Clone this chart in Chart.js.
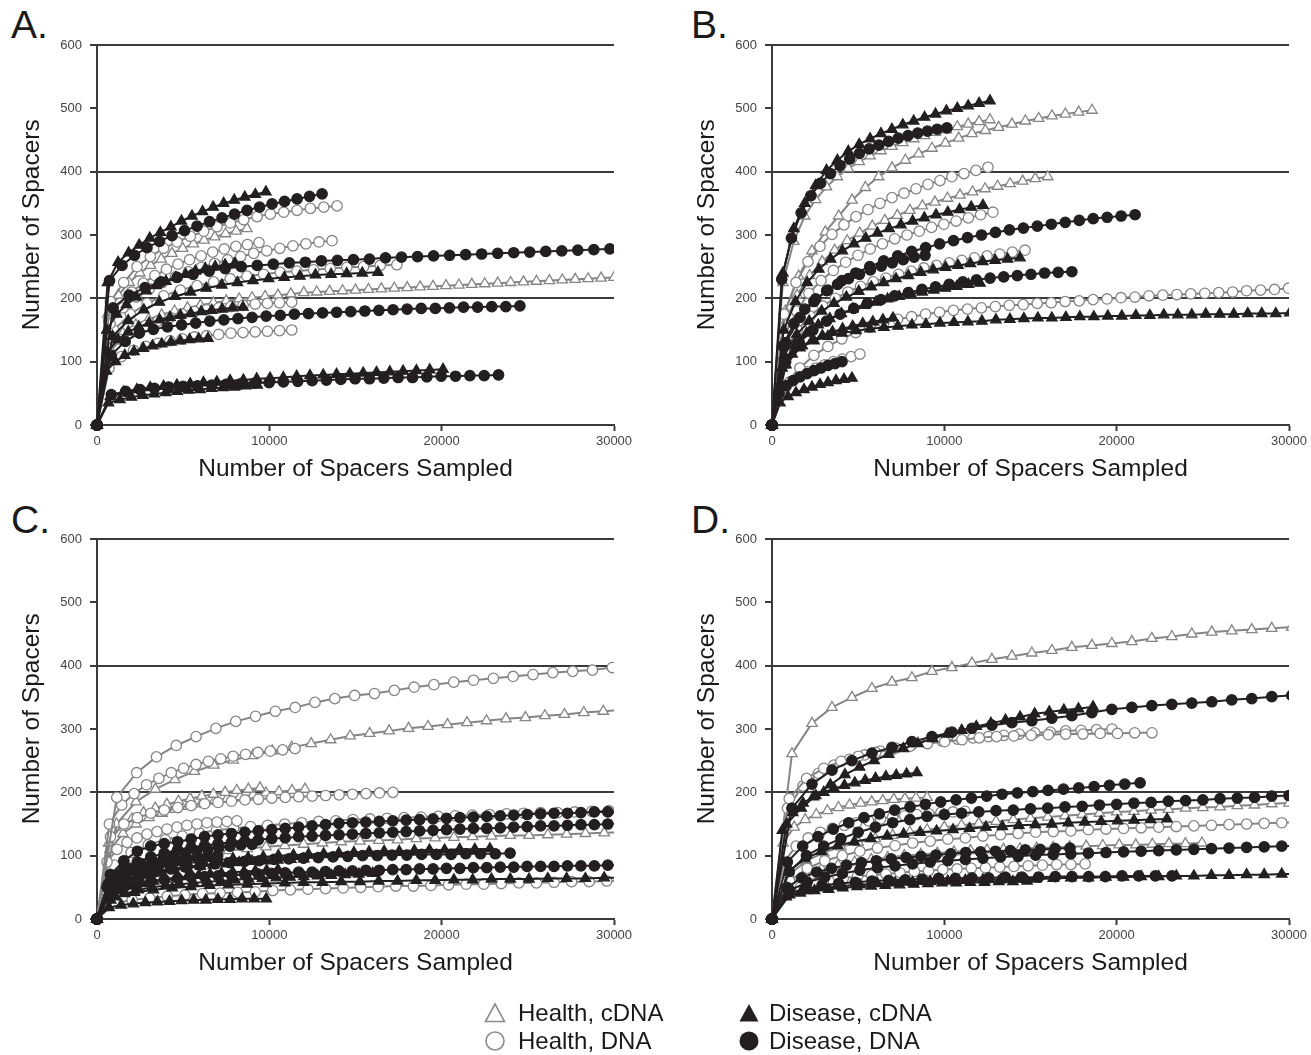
<!DOCTYPE html>
<html>
<head>
<meta charset="utf-8">
<script src="https://cdn.jsdelivr.net/npm/chart.js@4.4.1/dist/chart.umd.min.js"></script>
<style>
    body { margin: 0; background: #fff; width: 1311px; height: 1055px; overflow: hidden; position: relative;
           font-family: "Liberation Sans", Arial, sans-serif; color: #1a1a1a; }
    canvas { position: absolute; }
    .tag { position: absolute; font-size: 39px; line-height: 1; }
    .key { position: absolute; font-size: 24px; line-height: 1; white-space: nowrap; }
    svg { position: absolute; left: 0; top: 0; }
</style>
</head>
<body>
<div class="tag" style="left:11px;top:5px">A.</div>
<div class="tag" style="left:691px;top:5px">B.</div>
<div class="tag" style="left:11px;top:500px">C.</div>
<div class="tag" style="left:691px;top:500px">D.</div>

<canvas id="chart-a" width="636" height="494" style="left:0;top:0"></canvas>
<canvas id="chart-b" width="636" height="494" style="left:675px;top:0"></canvas>
<canvas id="chart-c" width="636" height="494" style="left:0;top:494px"></canvas>
<canvas id="chart-d" width="636" height="494" style="left:675px;top:494px"></canvas>

<svg width="1311" height="1055">
    <polygon points="495,1004 504.5,1021.5 485.5,1021.5" fill="#fff" stroke="#8c8c8c" stroke-width="1.6"/>
    <circle cx="495" cy="1041" r="9" fill="#fff" stroke="#8c8c8c" stroke-width="1.6"/>
    <polygon points="749,1004 758.5,1021.5 739.5,1021.5" fill="#231f20"/>
    <circle cx="749" cy="1041" r="9.5" fill="#231f20"/>
</svg>
<div class="key" style="left:518px;top:1001px">Health, cDNA</div>
<div class="key" style="left:518px;top:1029px">Health, DNA</div>
<div class="key" style="left:769px;top:1001px">Disease, cDNA</div>
<div class="key" style="left:769px;top:1029px">Disease, DNA</div>

<script>
// each curve: [last spacers sampled, number of spacers at evenly spaced sample sizes]
const aHealthCdna = [
    [8700, [175, 205, 225, 240, 252, 262, 271, 279, 286, 292, 297, 302, 306, 310]],
    [30750, [120, 145, 158, 167, 174, 180, 185, 189, 193, 196, 199, 201, 203, 205, 207, 209, 210, 211, 212, 213,
             214, 215, 216, 217, 218, 219, 220, 221, 222, 223, 224, 225, 226, 227, 228, 229, 230, 231, 232, 233, 234]],
];
const aHealthDna = [
    [13930, [195, 225, 250, 266, 279, 289, 298, 306, 313, 319, 324, 329, 333, 336, 339, 342, 344, 346]],
    [13640, [160, 185, 202, 215, 225, 234, 242, 249, 255, 261, 266, 271, 275, 279, 283, 286, 289, 291]],
    [9400, [165, 192, 210, 224, 236, 246, 254, 261, 267, 273, 278, 282, 285, 288]],
    [17400, [150, 175, 192, 204, 213, 220, 226, 231, 235, 238, 241, 243, 245, 247, 249, 250, 252, 253]],
    [11300, [115, 135, 148, 157, 164, 170, 175, 179, 182, 185, 187, 189, 191, 192, 193, 194]],
    [11300, [90, 108, 118, 124, 129, 133, 136, 139, 141, 143, 145, 146, 147, 148, 149, 150]],
];
const aDiseaseCdna = [
    [9800, [225, 257, 272, 284, 295, 304, 313, 322, 330, 337, 344, 350, 355, 360, 364, 368]],
    [16300, [140, 165, 182, 194, 203, 210, 216, 221, 225, 228, 231, 233, 235, 237, 238, 239, 240, 241]],
    [8000, [150, 175, 190, 202, 212, 220, 227, 233, 238, 243, 247, 250, 253, 255]],
    [8470, [115, 135, 147, 155, 161, 166, 170, 173, 176, 179, 181, 183, 185, 186]],
    [6440, [85, 100, 110, 116, 121, 125, 128, 131, 133, 135, 136, 137]],
    [20080, [45, 52, 56, 59, 61, 63, 65, 67, 68, 70, 71, 73, 74, 75, 77, 78, 79, 80, 81, 82, 83, 84, 85, 86, 87, 88]],
    [9300, [35, 40, 44, 47, 49, 51, 53, 55, 56, 58, 59, 60, 62, 63]],
];
const aDiseaseDna = [
    [13060, [228, 252, 268, 280, 290, 299, 307, 314, 321, 327, 333, 339, 344, 349, 353, 357, 361, 365]],
    [30690, [185, 205, 217, 226, 233, 238, 243, 247, 250, 252, 254, 256, 257, 259, 260, 261, 262, 264, 265, 266,
             267, 268, 269, 270, 271, 272, 273, 274, 275, 276, 277, 278, 279]],
    [24540, [110, 132, 145, 151, 155, 158, 161, 164, 166, 168, 170, 172, 173, 175, 176, 177, 178, 179, 180, 181,
             182, 183, 184, 184, 185, 186, 186, 187, 187, 188]],
    [23300, [48, 53, 56, 58, 60, 61, 62, 63, 64, 65, 66, 67, 68, 69, 70, 71, 72, 73, 73, 74, 75, 75, 76, 77, 77, 78, 78, 79]],
];

const bHealthCdna = [
    [12650, [225, 290, 330, 356, 376, 392, 405, 416, 425, 433, 440, 446, 452, 457, 462, 466, 471, 475, 479, 482]],
    [18570, [180, 235, 275, 305, 330, 355, 375, 392, 406, 418, 428, 437, 445, 453, 460, 465, 470, 475, 480, 484,
             488, 491, 494, 497]],
    [16000, [160, 205, 236, 258, 276, 291, 303, 314, 323, 331, 339, 346, 352, 358, 363, 368, 373, 377, 381, 385, 389, 392]],
];
const bHealthDna = [
    [12530, [175, 225, 258, 282, 301, 316, 329, 340, 350, 359, 366, 373, 380, 386, 392, 397, 402, 407]],
    [12820, [140, 180, 208, 228, 244, 257, 268, 278, 286, 294, 300, 306, 312, 317, 322, 327, 332, 336]],
    [14680, [115, 150, 172, 188, 200, 210, 219, 226, 232, 238, 243, 248, 252, 256, 260, 264, 267, 270, 273, 276]],
    [29970, [60, 90, 110, 124, 136, 146, 154, 161, 167, 171, 175, 178, 181, 183, 185, 187, 189, 190, 192, 193,
             195, 196, 198, 199, 201, 202, 204, 205, 206, 207, 208, 209, 210, 212, 213, 214, 216]],
    [5100, [55, 68, 77, 84, 90, 95, 100, 104, 108, 112]],
];
const bDiseaseCdna = [
    [12650, [240, 310, 350, 378, 402, 418, 432, 443, 452, 460, 467, 474, 480, 486, 491, 496, 500, 504, 508, 512]],
    [12240, [150, 195, 225, 246, 262, 275, 286, 295, 303, 310, 316, 322, 327, 332, 336, 340, 344, 347]],
    [14390, [110, 143, 164, 180, 192, 202, 211, 218, 225, 231, 236, 241, 245, 249, 252, 255, 258, 260, 262, 264]],
    [12070, [95, 125, 145, 158, 168, 176, 183, 189, 194, 199, 203, 207, 210, 213, 216, 219, 222, 224]],
    [30044, [95, 122, 133, 140, 145, 149, 152, 154, 156, 158, 159, 161, 162, 163, 164, 166, 167, 168, 169, 169,
             170, 171, 171, 172, 172, 173, 173, 174, 174, 174, 175, 175, 175, 176, 176, 176, 177]],
    [7020, [90, 112, 125, 134, 141, 147, 152, 156, 160, 163, 166, 169]],
    [4640, [35, 45, 51, 56, 60, 64, 67, 70, 72, 74]],
];
const bDiseaseDna = [
    [10150, [230, 295, 335, 362, 382, 397, 410, 420, 429, 436, 442, 448, 453, 457, 461, 464, 467, 469]],
    [21070, [130, 170, 195, 213, 228, 240, 250, 259, 267, 274, 280, 286, 291, 296, 300, 304, 308, 311, 314, 317,
             320, 323, 326, 328, 330, 332]],
    [8880, [125, 160, 183, 199, 212, 222, 231, 238, 245, 251, 256, 261, 265, 268]],
    [17400, [100, 130, 150, 164, 175, 184, 192, 198, 204, 209, 214, 218, 222, 226, 229, 232, 234, 236, 238, 240, 241, 242]],
    [4060, [50, 62, 70, 76, 81, 86, 90, 94, 97, 100]],
];

const cHealthCdna = [
    [30510, [150, 185, 205, 220, 233, 243, 251, 258, 265, 271, 277, 283, 289, 293, 297, 301, 304, 307, 310, 313,
             316, 318, 321, 323, 326, 328, 330]],
    [9460, [120, 145, 158, 168, 175, 181, 186, 190, 194, 197, 200, 203, 205, 207]],
    [12070, [110, 135, 150, 160, 167, 173, 178, 182, 186, 190, 193, 196, 199, 201, 203, 205]],
    [30520, [60, 78, 88, 95, 100, 104, 108, 111, 114, 116, 118, 120, 122, 123, 124, 125, 127, 128, 129, 130,
             131, 132, 132, 133, 134, 135, 136, 137]],
];
const cHealthDna = [
    [31050, [192, 231, 256, 274, 288, 301, 312, 320, 328, 334, 342, 348, 353, 356, 361, 366, 370, 374, 377, 380,
             383, 386, 389, 391, 393, 397, 399]],
    [11490, [150, 180, 198, 212, 222, 231, 238, 244, 249, 253, 257, 260, 263, 265, 267, 269]],
    [17170, [130, 150, 160, 167, 172, 176, 179, 182, 184, 186, 188, 189, 191, 192, 193, 194, 195, 196, 197, 198, 199, 200]],
    [8120, [90, 110, 121, 128, 134, 138, 142, 145, 148, 150, 152, 153, 154, 155]],
    [30690, [85, 105, 117, 125, 131, 136, 140, 143, 146, 148, 150, 152, 154, 155, 157, 158, 159, 160, 161, 162,
             163, 164, 165, 166, 167, 168, 168, 169, 170, 171, 172]],
    [30600, [25, 30, 33, 36, 38, 40, 41, 42, 43, 45, 46, 47, 48, 49, 50, 51, 52, 52, 53, 54,
             55, 55, 56, 57, 57, 58, 59, 59, 60, 61]],
];
const cDiseaseCdna = [
    [22800, [55, 68, 76, 81, 85, 88, 91, 93, 95, 97, 98, 100, 101, 102, 103, 104, 105, 106, 107, 107,
             108, 109, 109, 110, 110, 111]],
    [30520, [35, 42, 46, 49, 51, 53, 54, 55, 56, 57, 58, 58, 59, 59, 60, 60, 61, 61, 62, 62,
             63, 63, 63, 64, 64, 64, 65, 65]],
    [9820, [18, 22, 24, 26, 27, 28, 29, 30, 30, 31, 31, 32, 32, 32]],
    [12000, [45, 58, 65, 70, 74, 77, 80, 83, 85, 87, 89, 91, 92, 93, 94, 95]],
    [10500, [35, 45, 52, 56, 60, 63, 65, 67, 69, 71, 72, 74, 75, 76, 77, 78]],
    [16000, [30, 40, 46, 50, 53, 55, 57, 59, 60, 62, 63, 64, 65, 66, 67, 68, 69, 70, 71, 72]],
];
const cDiseaseDna = [
    [30420, [70, 92, 107, 115, 119, 122, 126, 130, 133, 135, 137, 139, 141, 143, 145, 147, 149, 151, 152, 153,
             154, 155, 156, 157, 158, 159, 160, 161, 162, 163, 164, 165, 166, 167, 167, 168, 169, 169, 170]],
    [30420, [60, 78, 90, 98, 104, 109, 113, 116, 119, 121, 123, 125, 127, 128, 130, 131, 132, 133, 134, 135,
             136, 137, 138, 139, 140, 141, 142, 143, 143, 144, 145, 146, 147, 147, 148, 149, 149, 150, 151]],
    [23970, [50, 62, 70, 75, 79, 82, 85, 87, 89, 91, 92, 94, 95, 96, 97, 98, 99, 100, 100, 101,
             101, 102, 102, 102, 103, 103, 103, 104]],
    [30420, [40, 50, 55, 59, 62, 64, 66, 67, 68, 69, 70, 71, 72, 73, 74, 74, 75, 76, 76, 77,
             77, 78, 78, 79, 79, 80, 80, 81, 81, 82, 82, 83, 83, 83, 84, 84, 84, 85, 85]],
    [9000, [55, 70, 80, 87, 92, 97, 101, 104, 107, 110, 113, 115, 117, 118]],
    [7000, [50, 63, 71, 77, 82, 86, 89, 92, 95, 97, 99, 100]],
];

const dHealthCdna = [
    [30160, [261, 309, 334, 350, 364, 374, 381, 391, 397, 404, 410, 415, 420, 424, 429, 432, 435, 438, 443, 446,
             450, 453, 455, 457, 459, 461]],
    [9000, [120, 145, 157, 165, 171, 176, 180, 183, 185, 187, 189, 190, 191, 192]],
    [31000, [70, 92, 105, 114, 121, 127, 132, 137, 141, 145, 148, 151, 154, 157, 159, 161, 163, 165, 167, 169,
             170, 172, 173, 175, 176, 177, 179, 180, 182, 183, 184]],
    [24950, [55, 70, 79, 85, 90, 94, 97, 100, 102, 104, 106, 108, 109, 110, 111, 112, 113, 114, 115, 116,
             117, 117, 118, 119, 119, 120]],
];
const dHealthDna = [
    [22050, [190, 222, 238, 249, 257, 263, 268, 273, 277, 280, 283, 286, 288, 289, 290, 291, 292, 292, 293, 293, 294, 294]],
    [19730, [175, 210, 230, 243, 252, 259, 265, 270, 274, 278, 281, 284, 286, 288, 290, 292, 294, 295, 297, 298, 299, 300]],
    [30600, [60, 80, 92, 100, 107, 112, 116, 120, 123, 126, 128, 131, 133, 135, 137, 138, 139, 141, 142, 143,
             144, 145, 146, 147, 148, 149, 150, 151, 152, 153]],
    [18170, [40, 50, 56, 60, 64, 67, 69, 71, 73, 75, 76, 78, 79, 80, 81, 82, 83, 84, 85, 86, 86, 87]],
    [11200, [90, 115, 128, 137, 143, 148, 152, 155, 158, 161, 163, 165, 166, 168, 169, 170]],
];
const dDiseaseCdna = [
    [18630, [150, 175, 195, 212, 228, 240, 250, 260, 269, 277, 285, 292, 298, 304, 309, 314, 319, 324, 327, 330, 332, 335]],
    [8410, [140, 168, 183, 193, 200, 206, 211, 215, 219, 222, 225, 227, 229, 231]],
    [22920, [75, 95, 107, 116, 122, 127, 131, 134, 137, 139, 141, 143, 145, 146, 148, 149, 150, 152, 153, 154,
             155, 156, 157, 158]],
    [30600, [38, 45, 49, 52, 54, 56, 57, 58, 59, 60, 61, 62, 62, 63, 63, 64, 65, 65, 66, 66,
             67, 67, 68, 68, 69, 69, 70, 70, 71, 71]],
    [14800, [35, 41, 45, 47, 49, 51, 52, 53, 54, 55, 56, 57, 57, 58, 58, 59, 59, 60]],
];
const dDiseaseDna = [
    [31320, [175, 213, 235, 250, 262, 271, 280, 288, 295, 301, 306, 310, 313, 317, 321, 326, 331, 334, 337, 339,
             341, 343, 346, 348, 351, 353, 355]],
    [21360, [90, 115, 130, 142, 152, 160, 166, 172, 177, 181, 185, 188, 191, 194, 197, 199, 201, 203, 205, 207,
             209, 211, 213, 215]],
    [31000, [75, 100, 115, 127, 137, 145, 152, 157, 162, 165, 167, 169, 171, 172, 174, 175, 177, 178, 180, 181,
             183, 184, 186, 187, 188, 190, 191, 192, 194, 195, 196]],
    [30600, [45, 58, 66, 72, 77, 81, 84, 87, 90, 92, 94, 96, 98, 99, 101, 102, 103, 104, 105, 106,
             107, 108, 109, 110, 111, 112, 113, 114, 115, 116]],
    [23210, [40, 48, 53, 56, 58, 60, 61, 62, 63, 64, 64, 65, 65, 66, 66, 66, 67, 67, 67, 67, 68, 68, 68, 68]],
    [17290, [50, 65, 74, 80, 85, 89, 92, 95, 97, 99, 101, 103, 105, 106, 107, 108, 109, 110, 111, 112]],
];

const GRAY = '#858585';
const INK = '#231f20';
const AXIS = '#3a3a3a';
const FONT = '"Liberation Sans", Arial, sans-serif';

function curvePoints(end, values) {
    const n = values.length;
    const points = values.map((y, i) => ({ x: Math.round(end * (i + 1) / n), y }));
    return [{ x: 0, y: 0 }, ...points];
}

function series(curves, health, shape) {
    return curves.map(([end, values]) => ({
        data: curvePoints(end, values),
        borderColor: health ? GRAY : INK,
        borderWidth: 2,
        pointStyle: shape,
        pointRadius: shape === 'triangle' ? 6 : 5.2,
        pointBackgroundColor: health ? '#fff' : INK,
        pointBorderColor: health ? GRAY : INK,
        pointBorderWidth: 1.3,
        clip: { left: 8, top: 8, right: 0, bottom: 8 },
    }));
}

function makeChart(id, healthCdna, healthDna, diseaseCdna, diseaseDna) {
    // first dataset is painted last, so disease curves sit on top
    const datasets = [
        ...series(diseaseDna, false, 'circle'),
        ...series(diseaseCdna, false, 'triangle'),
        ...series(healthDna, true, 'circle'),
        ...series(healthCdna, true, 'triangle'),
    ];
    new Chart(document.getElementById(id), {
        type: 'line',
        data: { datasets },
        options: {
            responsive: false,
            animation: false,
            devicePixelRatio: 1,
            layout: { padding: { left: 0, top: 45, right: 22, bottom: 0 } },
            plugins: { legend: { display: false }, tooltip: { enabled: false } },
            elements: { line: { tension: 0 } },
            scales: {
                x: {
                    type: 'linear',
                    min: 0,
                    max: 30000,
                    afterFit: (scale) => { scale.height = 69; },
                    ticks: {
                        stepSize: 10000,
                        color: '#444',
                        font: { size: 13, family: FONT },
                        padding: 3,
                        maxRotation: 0,
                        callback: (v) => String(v),
                    },
                    grid: { drawOnChartArea: false, tickLength: 6, tickColor: AXIS, tickWidth: 2 },
                    border: { color: AXIS, width: 2 },
                    title: {
                        display: true,
                        text: 'Number of Spacers Sampled',
                        color: '#1a1a1a',
                        font: { size: 24.5, family: FONT },
                        padding: { top: 0, bottom: 10 },
                    },
                },
                y: {
                    min: 0,
                    max: 600,
                    afterFit: (scale) => { scale.width = 97; },
                    ticks: {
                        stepSize: 100,
                        color: '#444',
                        font: { size: 13, family: FONT },
                        padding: 8,
                        callback: (v) => String(v),
                    },
                    grid: {
                        color: (c) => (c.tick && c.tick.value > 0 && c.tick.value % 200 === 0 ? AXIS : 'rgba(0,0,0,0)'),
                        lineWidth: 2,
                        tickLength: 7,
                        tickColor: AXIS,
                        tickWidth: 2,
                    },
                    border: { color: AXIS, width: 2 },
                    title: {
                        display: true,
                        text: '   Number of Spacers',
                        color: '#1a1a1a',
                        font: { size: 24.5, family: FONT },
                        padding: { top: 18, bottom: 0 },
                    },
                },
            },
        },
    });
}

makeChart('chart-a', aHealthCdna, aHealthDna, aDiseaseCdna, aDiseaseDna);
makeChart('chart-b', bHealthCdna, bHealthDna, bDiseaseCdna, bDiseaseDna);
makeChart('chart-c', cHealthCdna, cHealthDna, cDiseaseCdna, cDiseaseDna);
makeChart('chart-d', dHealthCdna, dHealthDna, dDiseaseCdna, dDiseaseDna);
</script>
</body>
</html>
